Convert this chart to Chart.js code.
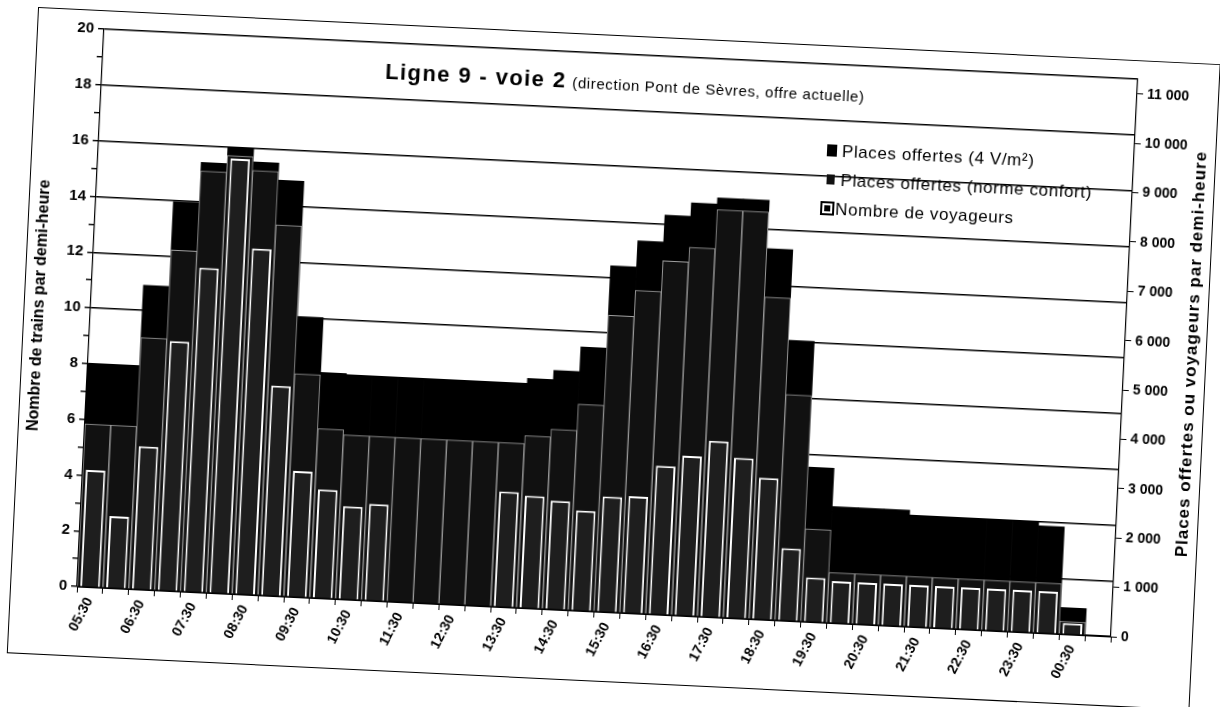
<!DOCTYPE html>
<html>
<head>
<meta charset="utf-8">
<script src="https://cdn.jsdelivr.net/npm/chart.js@4.4.1/dist/chart.umd.min.js"></script>
<style>
  html, body { margin: 0; padding: 0; background: #fff; overflow: hidden; }
  #page { position: absolute; left: 0; top: 0; width: 1220px; height: 707px;
          transform: rotate(2.77deg); transform-origin: 610px 353px; }
  #frame { position: absolute; left: 22px; top: 35px; width: 1182px; height: 645px; border: 1px solid #000; }
  canvas { display: block; }
</style>
</head>
<body>
<div id="page">
  <div id="frame"><canvas id="chart" width="1182" height="645"></canvas></div>
</div>
<script>
// half-hour slots, labelled every hour
const slots = ['05:30','06:00','06:30','07:00','07:30','08:00','08:30','09:00','09:30','10:00',
  '10:30','11:00','11:30','12:00','12:30','13:00','13:30','14:00','14:30','15:00',
  '15:30','16:00','16:30','17:00','17:30','18:00','18:30','19:00','19:30','20:00',
  '20:30','21:00','21:30','22:00','22:30','23:00','23:30','00:00','00:30','01:00'];

// places offertes a 4 voyageurs/m2
const placesMax = [4520,4520,6160,7880,8700,9040,8760,8420,5680,4570,
  4550,4550,4550,4550,4550,4550,4550,4650,4840,5340,
  7010,7540,8090,8360,8490,8490,7510,5680,3130,2360,
  2360,2360,2260,2260,2260,2260,2260,2170,540,null];

// places offertes (norme confort)
const placesConfort = [3300,3300,5100,6900,8530,8870,8590,7510,4520,3430,
  3330,3330,3330,3330,3330,3330,3330,3490,3650,4180,
  6010,6540,7160,7460,8250,8250,6530,4580,1880,1020,
  1020,1020,1020,1020,1020,1020,1020,1020,260,null];

// nombre de voyageurs
const voyageurs = [2370,1460,2900,5060,6570,8810,7010,4260,2550,2200,
  1890,1960,null,null,null,null,2340,2280,2200,2030,
  2340,2370,3010,3240,3570,3250,2870,1470,900,850,
  850,850,850,850,850,850,850,850,230,null];

// axis ticks
const trainTicks = [0,1,2,3,4,5,6,7,8,9,10,11,12,13,14,15,16,17,18,19,20];
const placesTicks = [0,1000,2000,3000,4000,5000,6000,7000,8000,9000,10000,11000];
const trainsMax = 20;
const placesAxisMax = 11300; // 565 places per train

const titleMain = 'Ligne 9 - voie 2';
const titleSub = '(direction Pont de Sèvres, offre actuelle)';
const rightTitle = 'Places offertes ou voyageurs par demi-heure';

Chart.defaults.font.family = '"Liberation Sans", Arial, sans-serif';
Chart.defaults.color = '#000';

const fmt = v => String(v).replace(/\B(?=(\d{3})+(?!\d))/g, ' ');

// title, legend and right-hand axis title drawn by hand
const extras = {
  id: 'extras',
  afterDraw(chart) {
    const ctx = chart.ctx;
    const a = chart.chartArea;
    ctx.save();
    ctx.fillStyle = '#000';
    ctx.textBaseline = 'alphabetic';

    // title
    ctx.font = 'bold 22px "Liberation Sans", Arial, sans-serif';
    ctx.letterSpacing = '1.4px';
    const tx = a.left + 283, ty = a.top + 36;
    ctx.fillText(titleMain, tx, ty);
    const w = ctx.measureText(titleMain).width;
    ctx.font = '15px "Liberation Sans", Arial, sans-serif';
    ctx.letterSpacing = '0.6px';
    ctx.fillText(titleSub, tx + w + 6, ty);

    // legend
    const lx = a.left + 733;
    const rows = [a.top + 86, a.top + 115, a.top + 144];
    ctx.font = '17px "Liberation Sans", Arial, sans-serif';
    ctx.letterSpacing = '0.6px';
    ctx.textBaseline = 'middle';
    chart.data.datasets.forEach((ds, i) => {
      const y = rows[i];
      if (i === 0) {
        ctx.fillStyle = '#000';
        ctx.fillRect(lx - 5, y - 6, 10, 12);
      } else if (i === 1) {
        ctx.fillStyle = '#111';
        ctx.fillRect(lx - 4, y - 5, 8, 10);
      } else {
        ctx.fillStyle = '#000';
        ctx.fillRect(lx - 9, y - 7, 14, 14);
        ctx.strokeStyle = '#fff';
        ctx.lineWidth = 2;
        ctx.strokeRect(lx - 6, y - 4, 8, 8);
      }
      ctx.fillStyle = '#000';
      ctx.fillText(ds.label, i === 2 ? lx + 6 : lx + 10, y + 1);
    });

    // right axis title, reading bottom to top
    ctx.font = 'bold 17px "Liberation Sans", Arial, sans-serif';
    ctx.letterSpacing = '1px';
    ctx.textAlign = 'center';
    ctx.translate(a.right + 67, (a.top + a.bottom) / 2 - 7);
    ctx.rotate(-Math.PI / 2);
    ctx.fillText(rightTitle, 0, 0);
    ctx.restore();
  }
};

new Chart(document.getElementById('chart'), {
  type: 'bar',
  data: {
    labels: slots,
    datasets: [
      {
        label: 'Places offertes (4 V/m²)',
        data: placesMax,
        yAxisID: 'y1',
        backgroundColor: '#000',
        borderWidth: 0,
        barPercentage: 1,
        categoryPercentage: 1,
        grouped: false,
        order: 3
      },
      {
        label: 'Places offertes (norme confort)',
        data: placesConfort,
        yAxisID: 'y1',
        backgroundColor: '#111',
        borderColor: '#a0a0a0',
        borderWidth: 1,
        barPercentage: 1,
        categoryPercentage: 1,
        grouped: false,
        order: 2
      },
      {
        label: 'Nombre de voyageurs',
        data: voyageurs,
        yAxisID: 'y1',
        backgroundColor: '#1e1e1e',
        borderColor: '#fff',
        borderWidth: 2,
        barPercentage: 0.76,
        categoryPercentage: 1,
        grouped: false,
        order: 1
      }
    ]
  },
  options: {
    responsive: false,
    animation: false,
    layout: { padding: { top: 18, left: 0, right: 0, bottom: 0 } },
    plugins: {
      legend: { display: false },
      tooltip: { enabled: false }
    },
    scales: {
      x: {
        grid: { drawOnChartArea: false, color: '#000', tickLength: 6, offset: true },
        border: { color: '#000', width: 1 },
        ticks: {
          autoSkip: false,
          maxRotation: 65,
          minRotation: 65,
          padding: 2,
          font: { size: 14, weight: 'bold' },
          callback: (v, i) => (i % 2 === 0 ? slots[i] : '')
        },
        afterFit: s => { s.height = 69; }
      },
      y: {
        position: 'left',
        min: 0,
        max: trainsMax,
        afterBuildTicks: s => { s.ticks = trainTicks.map(v => ({ value: v })); },
        ticks: {
          autoSkip: false,
          padding: 4,
          font: { size: 15, weight: 'bold' },
          callback: v => (v % 2 === 0 ? v : '')
        },
        grid: {
          color: c => (c.tick && c.tick.value % 2 === 0 ? '#000' : 'rgba(0,0,0,0)'),
          tickColor: '#000',
          lineWidth: 1.4,
          tickLength: 6
        },
        border: { color: '#000', width: 1.2 },
        title: {
          display: true,
          text: 'Nombre de trains par demi-heure',
          font: { size: 16, weight: 'bold' },
          padding: { top: 5, bottom: 0 }
        },
        afterFit: s => { s.width = 66; }
      },
      y1: {
        position: 'right',
        min: 0,
        max: placesAxisMax,
        afterBuildTicks: s => { s.ticks = placesTicks.map(v => ({ value: v })); },
        ticks: {
          autoSkip: false,
          padding: 4,
          font: { size: 14, weight: 'bold' },
          callback: v => fmt(v)
        },
        grid: { drawOnChartArea: false, color: '#000', tickLength: 6 },
        border: { color: '#000', width: 1.2 },
        afterFit: s => { s.width = 81; }
      }
    }
  },
  plugins: [extras]
});
</script>
</body>
</html>
